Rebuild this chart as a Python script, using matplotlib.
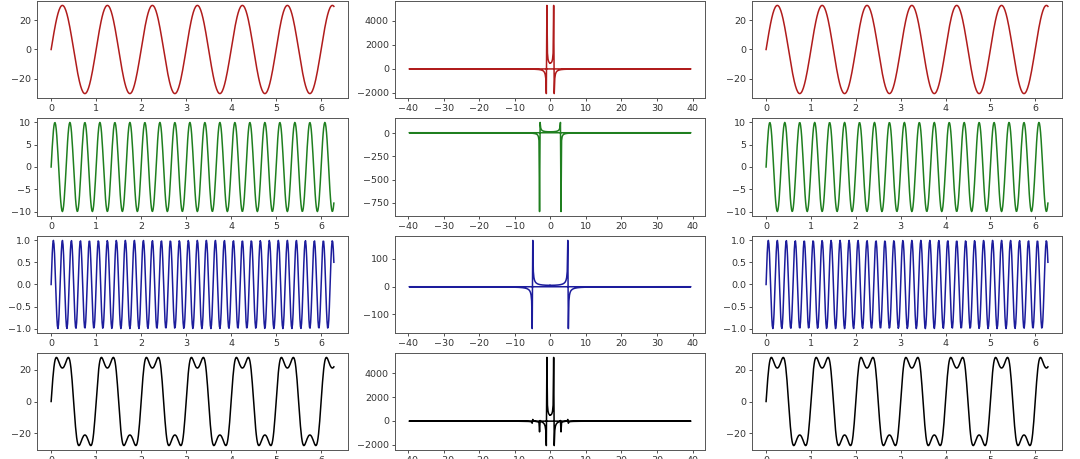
import numpy as np
import matplotlib
matplotlib.use("Agg")
import matplotlib.pyplot as plt

# Signal components
freqs_hz = [1, 3, 5]          # cycles per unit time
amplitudes = [30, 10, 1]      # peak amplitude of each component
colors = ['#b01c1c', '#1f7f1f', '#1c1c9c', '#000000']
n_samples = 500
t_end = 2 * np.pi

times = np.linspace(0, t_end, n_samples)
signals = [a * np.sin(2 * np.pi * f * times) for a, f in zip(amplitudes, freqs_hz)]
signals.append(np.sum(signals, axis=0))

freqs = np.fft.fftfreq(times.size, times[1] - times[0])
spectra = [np.real(np.fft.fft(s)) for s in signals]

W, H = 1080, 459
fig = plt.figure(figsize=(W / 100, H / 100), dpi=100)
plt.rcParams['font.size'] = 6.8

col_x = [(37, 348), (395, 705), (752, 1062)]
row_y = [(1, 98), (118, 216), (236, 333), (353, 450)]

def add_ax(c, r):
    x0, x1 = col_x[c]
    y0, y1 = row_y[r]
    return fig.add_axes([x0 / W, 1 - y1 / H, (x1 - x0) / W, (y1 - y0) / H])

for r in range(4):
    for c in range(3):
        ax = add_ax(c, r)
        if c == 1:
            ax.plot(freqs, spectra[r], color=colors[r], lw=1.1)
            ax.set_xticks(np.arange(-40, 41, 10))
        else:
            ax.plot(times, signals[r], color=colors[r], lw=1.1)
            ax.set_xticks(np.arange(0, 7, 1))
        ax.tick_params(labelsize=6.8, length=2.4, width=0.6, pad=2, colors='#333333')
        for sp in ax.spines.values():
            sp.set_linewidth(0.7)
            sp.set_color('#555555')

fig.savefig("out.png", dpi=100)
